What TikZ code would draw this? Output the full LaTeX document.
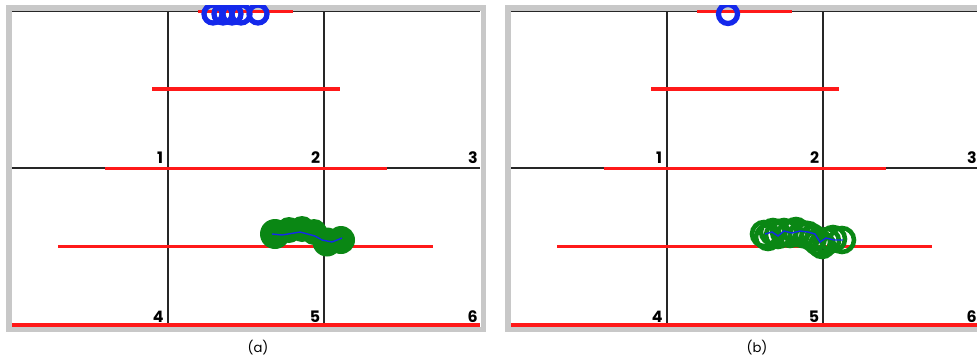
\documentclass[tikz,border=0pt]{standalone}
\usepackage{fontspec}
\setsansfont{Poppins}
\usetikzlibrary{positioning}
\definecolor{framegray}{RGB}{200, 200, 200}
\definecolor{lanered}{RGB}{255, 25, 25}
\definecolor{trackblue}{RGB}{20, 40, 235}
\definecolor{trackgreen}{RGB}{10, 135, 20}

\begin{document}
\begin{tikzpicture}[x=0.02cm, y=-0.02cm,
    frame/.style={draw=framegray, line width=3.2pt},
    gridline/.style={draw=black!85, line width=1pt},
    lane/.style={draw=lanered, line width=1.9pt},
    cellno/.style={font=\sffamily\bfseries\fontsize{9}{10}\selectfont,
        anchor=base east, inner sep=0pt},
    panelcap/.style={font=\sffamily\fontsize{7.5}{9}\selectfont, inner sep=0pt},
    blobdot/.style={fill=trackgreen},
    greenring/.style={draw=trackgreen, line width=2.6pt},
    bluering/.style={draw=trackblue, line width=3pt},
    trail/.style={draw=trackblue, line width=0.8pt}
]
    \useasboundingbox (0,0) rectangle (977,359);
    \clip (0,0) rectangle (977,359);

    % both panels share the same grid and lanes
    \foreach \p/\dx in {a/0, b/499} {
        \begin{scope}[xshift=\dx*0.02cm]
            \draw[frame] (9,8) rectangle (483.5,329.5);
            \draw[gridline] (12,11.5) -- (480,11.5);
            \draw[gridline] (12,168.3) -- (480,168.3);
            \draw[gridline] (167.7,11.5) -- (167.7,325);
            \draw[gridline] (324.3,11.5) -- (324.3,325);

            \draw[lane] (198,11.5) -- (293,11.5);
            \draw[lane] (152,89) -- (340,89);
            \draw[lane] (105,168.3) -- (387,168.3);
            \draw[lane] (58,246.5) -- (433,246.5);
            \draw[lane] (12,325) -- (480,325);

            \node[cellno] (\p1) at (163.5,163) {1};
            \node[cellno] (\p2) at (320.5,163) {2};
            \node[cellno] (\p3) at (478,163) {3};
            \node[cellno] (\p4) at (164,322) {4};
            \node[cellno] (\p5) at (320.5,322) {5};
            \node[cellno] (\p6) at (478,322) {6};

            \node[panelcap] (cap\p) at (258,348) {(\p)};
        \end{scope}
    }

    % blue rings at the top lane
    \begin{scope}
        \clip (0,5) rectangle (977,359);
        \foreach \cx in {213, 223, 232, 241, 258}
            \draw[bluering] (\cx,14) circle (9);
        \draw[bluering] (728,14) circle (9.5);
    \end{scope}

    % panel (a): dense green track
    \fill[blobdot] (275,234) circle (15) (289,230) circle (13) (302,229) circle (13)
        (314,232) circle (13) (327,242) circle (14.5) (341,240) circle (14);
    \draw[trail] (272,234) -- (282,235) -- (300,232) -- (315,236)
        -- (322,240) -- (332,242) -- (342,238);

    % panel (b): overlapping green rings
    \foreach \cx/\cy in {764/234, 768/237, 773/232, 778/235, 784/232, 790/234,
        796/231, 802/234, 808/235, 813/238, 818/242, 822/245, 827/241,
        833/239, 842/240}
        \draw[greenring] (\cx,\cy) circle (12);
    \draw[trail] (765,234) -- (772,232) -- (778,236) -- (784,231) -- (792,233)
        -- (800,231) -- (808,232) -- (815,234) -- (820,242) -- (826,238)
        -- (834,240) -- (843,240);
\end{tikzpicture}
\end{document}
